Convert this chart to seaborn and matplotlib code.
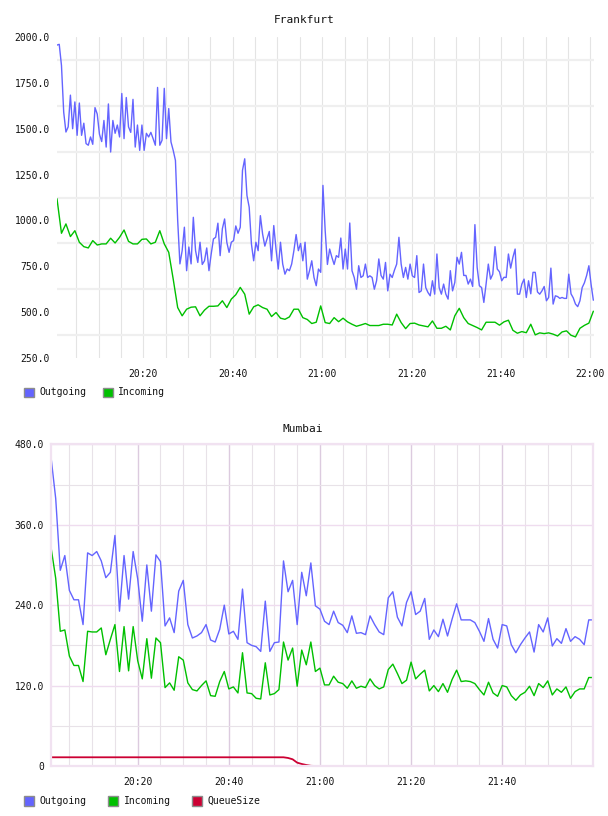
import pandas as pd
import matplotlib
matplotlib.use("Agg")
import matplotlib.pyplot as plt
import matplotlib.dates as mdates
from matplotlib.patches import Rectangle
import seaborn as sns


# Frankfurt : Outgoing toutes les 30 s, Incoming toutes les minutes
frankfurt_outgoing = [
    1956, 1960, 1845, 1590, 1482, 1510, 1683, 1500, 1646, 1464,
    1640, 1464, 1530, 1419, 1410, 1455, 1415, 1615, 1580, 1470,
    1430, 1545, 1400, 1635, 1373, 1545, 1475, 1520, 1455, 1692,
    1446, 1670, 1510, 1480, 1660, 1400, 1520, 1382, 1520, 1382,
    1475, 1455, 1480, 1446, 1410, 1725, 1410, 1437, 1720, 1446,
    1610, 1428, 1382, 1327, 1000, 763, 835, 963, 726, 855,
    763, 1017, 835, 771, 881, 760, 780, 850, 726, 817,
    899, 908, 985, 808, 955, 1008, 880, 826, 881, 890,
    970, 930, 963, 1273, 1336, 1136, 1072, 872, 780, 881,
    835, 1026, 926, 860, 899, 940, 780, 972, 844, 735,
    881, 762, 707, 735, 726, 762, 835, 923, 835, 875,
    780, 881, 680, 726, 780, 689, 644, 735, 717, 1191,
    945, 760, 844, 799, 760, 808, 799, 904, 735, 844,
    735, 986, 726, 689, 625, 753, 689, 698, 762, 689,
    698, 689, 625, 671, 790, 700, 680, 771, 616, 707,
    689, 729, 762, 908, 762, 689, 744, 680, 762, 698,
    689, 808, 607, 616, 762, 634, 607, 589, 671, 598,
    817, 634, 598, 653, 598, 571, 726, 616, 662, 799,
    762, 826, 700, 700, 653, 680, 640, 977, 744, 644,
    634, 553, 653, 762, 680, 707, 857, 735, 720, 671,
    690, 689, 817, 740, 799, 844, 598, 598, 653, 680,
    580, 671, 600, 717, 717, 610, 598, 616, 640, 562,
    580, 740, 544, 589, 585, 575, 580, 575, 575, 707,
    600, 578, 544, 530, 562, 634, 660, 700, 753, 650, 565,
]
frankfurt_incoming = [
    1118, 930, 981, 912, 944, 881, 857, 850, 890, 866,
    872, 872, 903, 877, 908, 948, 886, 872, 872, 897,
    899, 872, 881, 944, 872, 826, 680, 525, 480, 516,
    527, 529, 480, 511, 532, 532, 534, 562, 525, 571,
    595, 635, 598, 489, 529, 540, 525, 516, 476, 498,
    467, 461, 474, 516, 516, 470, 460, 438, 445, 534,
    443, 438, 470, 448, 467, 447, 434, 423, 430, 438,
    427, 427, 427, 434, 434, 430, 489, 443, 410, 438,
    440, 430, 425, 420, 452, 412, 412, 423, 403, 480,
    521, 470, 438, 427, 416, 403, 445, 445, 445, 429,
    447, 456, 401, 385, 394, 388, 434, 376, 387, 383,
    387, 380, 370, 392, 398, 374, 365, 412, 428, 440, 505,
]

# Mumbai : une valeur par minute
mumbai_outgoing = [
    459, 399, 292, 314, 262, 248, 248, 211, 318, 314,
    320, 306, 281, 289, 344, 231, 314, 249, 320, 279,
    216, 300, 231, 315, 305, 209, 221, 199, 261, 277,
    211, 191, 194, 199, 211, 188, 185, 204, 240, 197,
    201, 189, 264, 184, 180, 178, 171, 246, 171, 184,
    185, 306, 260, 277, 211, 289, 254, 303, 239, 234,
    216, 211, 231, 214, 210, 199, 224, 198, 199, 196,
    224, 211, 200, 196, 251, 260, 222, 209, 244, 260,
    226, 231, 250, 189, 203, 193, 219, 194, 219, 242,
    218, 218, 218, 214, 201, 186, 220, 189, 176, 211,
    209, 181, 169, 181, 191, 200, 170, 211, 200, 221,
    179, 190, 183, 205, 186, 193, 189, 181, 218, 218,
]
mumbai_incoming = [
    325, 280, 201, 203, 164, 150, 150, 126, 201, 200,
    200, 206, 166, 189, 211, 141, 208, 142, 208, 157,
    130, 190, 131, 191, 184, 117, 124, 113, 163, 158,
    124, 114, 112, 120, 127, 105, 104, 126, 141, 115,
    118, 109, 169, 109, 108, 101, 100, 154, 106, 108,
    114, 185, 158, 176, 119, 173, 151, 185, 141, 146,
    121, 121, 134, 125, 123, 116, 127, 116, 119, 117,
    130, 120, 115, 118, 144, 152, 138, 123, 128, 155,
    130, 137, 143, 112, 120, 111, 123, 110, 129, 143,
    126, 127, 126, 123, 114, 106, 125, 109, 104, 120,
    118, 105, 98, 106, 110, 119, 105, 123, 117, 127,
    106, 115, 110, 118, 101, 111, 115, 115, 132, 132,
]
mumbai_queue = [
    13, 13, 13, 13, 13, 13, 13, 13, 13, 13,
    13, 13, 13, 13, 13, 13, 13, 13, 13, 13,
    13, 13, 13, 13, 13, 13, 13, 13, 13, 13,
    13, 13, 13, 13, 13, 13, 13, 13, 13, 13,
    13, 13, 13, 13, 13, 13, 13, 13, 13, 13,
    13, 13, 12, 10, 5, 3, 1.5, 0.3, 0, 0,
    0, 0, 0, 0, 0, 0, 0, 0, 0, 0,
    0, 0, 0, 0, 0, 0, 0, 0, 0, 0,
    0, 0, 0, 0, 0, 0, 0, 0, 0, 0,
    0, 0, 0, 0, 0, 0, 0, 0, 0, 0,
    0, 0, 0, 0, 0, 0, 0, 0, 0, 0,
    0, 0, 0, 0, 0, 0, 0, 0, 0, 0,
]

frankfurt_yticks = [250, 500, 750, 1000, 1250, 1500, 1750, 2000]
frankfurt_ygrid = [375, 625, 875, 1125, 1375, 1625, 1875]
mumbai_yticks = [0, 120, 240, 360, 480]
mumbai_yticklabels = ["0", "120.0", "240.0", "360.0", "480.0"]
mumbai_ygrid = [60, 180, 300, 420]
mumbai_xticklabels = ["20:20", "20:40", "21:00", "21:20", "21:40"]

series_colors = {"Outgoing": "#6464ff", "Incoming": "#00c000", "QueueSize": "#cc0033"}

day = "2024-01-01 "
fra_out_t = pd.date_range(day + "20:00:40", periods=len(frankfurt_outgoing), freq="30s")
fra_in_t = pd.date_range(day + "20:00:40", periods=len(frankfurt_incoming), freq="60s")
mum_t = pd.date_range(day + "20:01:00", periods=len(mumbai_outgoing), freq="60s")

sns.set_style("white")
plt.rcParams["font.family"] = ["DejaVu Sans Mono"]

W, H = 608, 816
fig = plt.figure(figsize=(W / 100, H / 100), dpi=100)


def px_axes(l, t, r, b):
    return fig.add_axes([l / W, 1 - b / H, (r - l) / W, (b - t) / H])


def legend_row(y, items):
    for x_sq, x_txt, name in items:
        fig.add_artist(Rectangle((x_sq / W, 1 - (y + 5) / H), 10 / W, 10 / H,
                                 transform=fig.transFigure, facecolor=series_colors[name],
                                 edgecolor="#8c8c8c", lw=1))
        fig.text(x_txt / W, 1 - y / H, name, fontsize=7, ha="left", va="center", color="#111111")


# ---- Frankfurt
ax1 = px_axes(57, 37, 593.5, 358)
sns.lineplot(x=fra_out_t, y=frankfurt_outgoing, ax=ax1, color=series_colors["Outgoing"], lw=1.0)
sns.lineplot(x=fra_in_t, y=frankfurt_incoming, ax=ax1, color=series_colors["Incoming"], lw=1.0)
ax1.set_xlim(pd.Timestamp(day + "20:00:40"), pd.Timestamp(day + "22:00:42"))
ax1.set_ylim(250, 2000)
ax1.set_yticks(frankfurt_yticks)
ax1.set_yticklabels([f"{v:.1f}" for v in frankfurt_yticks])
ax1.set_yticks(frankfurt_ygrid, minor=True)
ax1.xaxis.set_major_locator(mdates.MinuteLocator(byminute=[0, 20, 40]))
ax1.xaxis.set_minor_locator(mdates.MinuteLocator(byminute=range(0, 60, 5)))
ax1.xaxis.set_major_formatter(mdates.DateFormatter("%H:%M"))
ax1.grid(False)
ax1.grid(True, axis="x", which="both", color="#e4e4e4", lw=0.8)
ax1.grid(True, axis="y", which="minor", color="#efefef", lw=1.6)
for s in ax1.spines.values():
    s.set_visible(False)
ax1.tick_params(which="both", length=0, labelsize=7, colors="#111111")
ax1.tick_params(axis="x", pad=8)
ax1.tick_params(axis="y", pad=5)
ax1.set_axisbelow(True)
ax1.set_xlabel("")
ax1.set_ylabel("")
fig.text(304 / W, 1 - 20 / H, "Frankfurt", fontsize=8, ha="center", va="center", color="#111111")
legend_row(392.5, [(24, 39, "Outgoing"), (102.5, 118, "Incoming")])

# ---- Mumbai
ax2 = px_axes(50.7, 444.3, 593.3, 766)
sns.lineplot(x=mum_t, y=mumbai_outgoing, ax=ax2, color=series_colors["Outgoing"], lw=1.0)
sns.lineplot(x=mum_t, y=mumbai_incoming, ax=ax2, color=series_colors["Incoming"], lw=1.0)
sns.lineplot(x=mum_t, y=mumbai_queue, ax=ax2, color=series_colors["QueueSize"], lw=1.3)
ax2.set_xlim(pd.Timestamp(day + "20:00:54"), pd.Timestamp(day + "22:00:00"))
ax2.set_ylim(0, 480)
ax2.set_yticks(mumbai_yticks)
ax2.set_yticklabels(mumbai_yticklabels)
ax2.set_yticks(mumbai_ygrid, minor=True)
ax2.set_xticks([pd.Timestamp(day + t) for t in mumbai_xticklabels])
ax2.set_xticklabels(mumbai_xticklabels)
ax2.xaxis.set_minor_locator(mdates.MinuteLocator(byminute=range(0, 60, 5)))
ax2.grid(False)
ax2.grid(True, axis="x", which="major", color="#dccbdf", lw=1.0)
ax2.grid(True, axis="x", which="minor", color="#e8e2e8", lw=0.8)
ax2.grid(True, axis="y", which="major", color="#efdcef", lw=1.0)
ax2.grid(True, axis="y", which="minor", color="#e8e2e8", lw=0.8)
for s in ax2.spines.values():
    s.set_visible(True)
    s.set_color("#f1e2f1")
    s.set_linewidth(1.6)
ax2.tick_params(which="both", length=0, labelsize=7, colors="#111111")
ax2.tick_params(axis="x", pad=8)
ax2.tick_params(axis="y", pad=5)
ax2.set_axisbelow(True)
ax2.set_xlabel("")
ax2.set_ylabel("")
fig.text(303 / W, 1 - 429 / H, "Mumbai", fontsize=8, ha="center", va="center", color="#111111")
legend_row(800.7, [(24, 39, "Outgoing"), (108, 124, "Incoming"), (192, 207, "QueueSize")])

fig.savefig("out.png", dpi=100, facecolor="white")
